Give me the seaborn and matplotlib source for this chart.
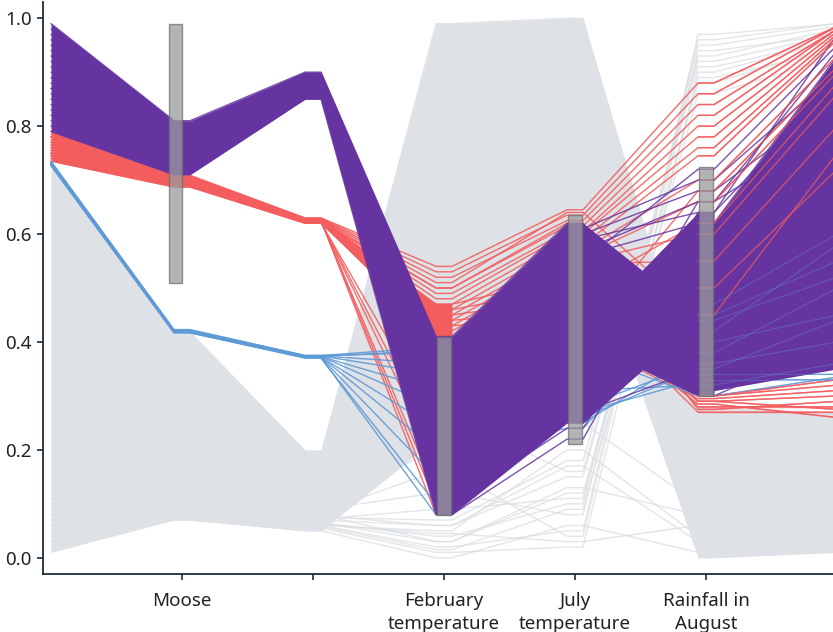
import matplotlib
matplotlib.use("Agg")
import matplotlib.pyplot as plt
import seaborn as sns
import pandas as pd
import numpy as np

# ---------------- data ----------------
axis_labels = ["", "Moose", "", "February\ntemperature", "July\ntemperature", "Rainfall in\nAugust", ""]
tick_axes = [1, 2, 3, 4, 5]
y_ticks = [0.0, 0.2, 0.4, 0.6, 0.8, 1.0]

# selected group (purple) profiles, one value per axis
purple_lines = [
    [0.99, 0.81, 0.900, 0.41, 0.62, 0.31, 0.36],
    [0.97, 0.80, 0.897, 0.39, 0.60, 0.68, 0.85],
    [0.95, 0.79, 0.893, 0.36, 0.58, 0.30, 0.40],
    [0.93, 0.78, 0.890, 0.33, 0.55, 0.72, 0.95],
    [0.91, 0.77, 0.885, 0.30, 0.52, 0.42, 0.62],
    [0.89, 0.76, 0.880, 0.27, 0.48, 0.45, 0.70],
    [0.87, 0.75, 0.875, 0.24, 0.45, 0.50, 0.78],
    [0.85, 0.74, 0.870, 0.20, 0.40, 0.55, 0.85],
    [0.83, 0.73, 0.865, 0.16, 0.35, 0.62, 0.90],
    [0.81, 0.72, 0.860, 0.12, 0.30, 0.66, 0.94],
    [0.80, 0.715, 0.855, 0.09, 0.26, 0.64, 0.97],
    [0.79, 0.71, 0.850, 0.08, 0.22, 0.60, 0.92],
    [0.90, 0.765, 0.880, 0.10, 0.24, 0.58, 0.88],
    [0.86, 0.745, 0.870, 0.14, 0.28, 0.47, 0.60],
    [0.92, 0.775, 0.888, 0.18, 0.33, 0.40, 0.50],
    [0.96, 0.795, 0.895, 0.22, 0.38, 0.36, 0.42],
    [0.84, 0.735, 0.868, 0.26, 0.50, 0.33, 0.38],
    [0.88, 0.755, 0.878, 0.35, 0.57, 0.66, 0.80],
    [0.94, 0.785, 0.892, 0.38, 0.61, 0.70, 0.90],
    [0.82, 0.725, 0.862, 0.11, 0.27, 0.35, 0.48],
    [0.98, 0.805, 0.898, 0.40, 0.59, 0.64, 0.88],
    [0.87, 0.752, 0.874, 0.31, 0.56, 0.62, 0.93],
]
red_lines = [
    [0.790, 0.709, 0.630, 0.54, 0.645, 0.88, 0.985],
    [0.785, 0.707, 0.629, 0.53, 0.635, 0.86, 0.985],
    [0.780, 0.705, 0.628, 0.52, 0.625, 0.84, 0.980],
    [0.775, 0.703, 0.627, 0.50, 0.615, 0.82, 0.980],
    [0.770, 0.701, 0.626, 0.49, 0.605, 0.80, 0.975],
    [0.765, 0.699, 0.625, 0.48, 0.600, 0.78, 0.970],
    [0.760, 0.697, 0.624, 0.47, 0.590, 0.76, 0.965],
    [0.755, 0.695, 0.623, 0.46, 0.580, 0.745, 0.960],
    [0.750, 0.693, 0.622, 0.45, 0.570, 0.70, 0.930],
    [0.745, 0.691, 0.621, 0.44, 0.560, 0.66, 0.900],
    [0.740, 0.689, 0.620, 0.43, 0.550, 0.60, 0.860],
    [0.735, 0.687, 0.620, 0.42, 0.545, 0.55, 0.800],
    [0.770, 0.700, 0.625, 0.47, 0.52, 0.29, 0.300],
    [0.760, 0.698, 0.624, 0.46, 0.50, 0.28, 0.280],
    [0.750, 0.694, 0.622, 0.45, 0.48, 0.27, 0.270],
    [0.780, 0.704, 0.627, 0.44, 0.46, 0.30, 0.320],
    [0.745, 0.692, 0.621, 0.43, 0.45, 0.285, 0.260],
    [0.770, 0.700, 0.625, 0.08, 0.40, 0.295, 0.310],
    [0.760, 0.697, 0.624, 0.12, 0.45, 0.50, 0.720],
    [0.750, 0.693, 0.622, 0.18, 0.50, 0.62, 0.880],
    [0.740, 0.690, 0.621, 0.25, 0.55, 0.275, 0.290],
    [0.780, 0.705, 0.628, 0.51, 0.64, 0.45, 0.750],
    [0.755, 0.695, 0.623, 0.50, 0.62, 0.30, 0.330],
    [0.765, 0.699, 0.625, 0.10, 0.42, 0.68, 0.910],
    [0.748, 0.692, 0.622, 0.21, 0.47, 0.29, 0.275],
]
blue_lines = [
    [0.735, 0.423, 0.375, 0.39, 0.42, 0.34, 0.34],
    [0.734, 0.422, 0.375, 0.38, 0.36, 0.40, 0.45],
    [0.733, 0.421, 0.374, 0.36, 0.30, 0.45, 0.55],
    [0.732, 0.421, 0.374, 0.34, 0.27, 0.33, 0.33],
    [0.731, 0.420, 0.373, 0.31, 0.25, 0.38, 0.50],
    [0.730, 0.419, 0.373, 0.28, 0.33, 0.42, 0.58],
    [0.729, 0.419, 0.372, 0.24, 0.28, 0.36, 0.40],
    [0.728, 0.418, 0.372, 0.20, 0.24, 0.47, 0.60],
    [0.727, 0.417, 0.371, 0.15, 0.31, 0.32, 0.36],
    [0.727, 0.417, 0.370, 0.10, 0.26, 0.35, 0.44],
    [0.728, 0.418, 0.371, 0.08, 0.29, 0.44, 0.52],
    [0.730, 0.420, 0.373, 0.385, 0.38, 0.30, 0.335],
]
grey_lines = [
    [0.70, 0.40, 0.19, 0.97, 0.99, 0.05, 0.06],
    [0.65, 0.38, 0.18, 0.93, 0.96, 0.12, 0.10],
    [0.60, 0.35, 0.17, 0.88, 0.92, 0.18, 0.17],
    [0.55, 0.32, 0.16, 0.83, 0.87, 0.22, 0.21],
    [0.50, 0.30, 0.15, 0.78, 0.82, 0.26, 0.25],
    [0.45, 0.27, 0.14, 0.72, 0.77, 0.02, 0.03],
    [0.40, 0.25, 0.13, 0.66, 0.70, 0.09, 0.11],
    [0.35, 0.22, 0.12, 0.60, 0.66, 0.14, 0.15],
    [0.68, 0.39, 0.19, 0.99, 1.00, 0.20, 0.19],
    [0.30, 0.20, 0.11, 0.55, 0.63, 0.24, 0.23],
    [0.05, 0.08, 0.06, 0.02, 0.05, 0.97, 0.99],
    [0.08, 0.09, 0.065, 0.04, 0.10, 0.95, 0.985],
    [0.10, 0.10, 0.07, 0.06, 0.15, 0.93, 0.98],
    [0.03, 0.075, 0.055, 0.01, 0.02, 0.90, 0.96],
    [0.12, 0.11, 0.075, 0.07, 0.18, 0.92, 0.97],
    [0.15, 0.12, 0.08, 0.03, 0.12, 0.88, 0.95],
    [0.02, 0.07, 0.05, 0.00, 0.06, 0.01, 0.01],
    [0.06, 0.085, 0.06, 0.05, 0.20, 0.04, 0.05],
    [0.09, 0.095, 0.065, 0.03, 0.13, 0.08, 0.08],
    [0.25, 0.18, 0.10, 0.20, 0.25, 0.10, 0.10],
    [0.20, 0.16, 0.09, 0.12, 0.08, 0.96, 0.99],
    [0.18, 0.15, 0.085, 0.16, 0.04, 0.94, 0.97],
    [0.22, 0.17, 0.095, 0.26, 0.16, 0.91, 0.96],
    [0.04, 0.078, 0.058, 0.015, 0.09, 0.86, 0.93],
    [0.07, 0.088, 0.062, 0.045, 0.03, 0.06, 0.04],
    [0.11, 0.105, 0.072, 0.09, 0.11, 0.89, 0.94],
    [0.14, 0.115, 0.078, 0.06, 0.17, 0.03, 0.02],
]

# dense bundles: (axes, lower values, upper values)
grey_bands = [
    ([0, 1, 2, 3], [0.01, 0.07, 0.05, 0.22], [0.73, 0.42, 0.20, 0.99]),
    ([3, 4], [0.30, 0.30], [0.99, 1.00]),
    ([4, 5], [0.62, 0.00], [1.00, 0.28]),
    ([5, 6], [0.00, 0.01], [0.28, 0.27]),
]
red_bands = [
    ([0, 1, 2], [0.735, 0.687, 0.620], [0.790, 0.709, 0.630]),
    ([2, 3], [0.620, 0.41], [0.630, 0.47]),
]
purple_bands = [
    ([0, 1, 2, 3], [0.79, 0.71, 0.85, 0.08], [0.99, 0.81, 0.90, 0.41]),
    ([3, 4], [0.08, 0.25], [0.41, 0.62]),
    ([4, 5], [0.40, 0.30], [0.62, 0.45]),
    ([4, 5], [0.25, 0.44], [0.42, 0.64]),
    ([5, 6], [0.31, 0.35], [0.62, 0.93]),
]

# brush ranges on the axes
brush_axes = [1, 3, 4, 5]
brush_lo = [0.51, 0.08, 0.21, 0.30]
brush_hi = [0.99, 0.41, 0.635, 0.725]

# ---------------- style ----------------
PURPLE = "#6634a0"
RED = "#f45d5e"
BLUE = "#5e9ad6"
SPINE = "#1c2b3a"
GREY = "#dee1e5"
H = 0.061          # half width of the flat run at each inner axis
LAST = len(axis_labels) - 1

sns.set_theme(style="ticks")
plt.rcParams["font.family"] = ["Noto Sans", "DejaVu Sans"]

fig = plt.figure(figsize=(8.33, 6.32), dpi=100)
ax = fig.add_axes([43 / 833, 1 - 574 / 632, 790 / 833, 572 / 632])


def xs_ys(axes_idx, vals):
    xs, ys = [], []
    for a, v in zip(axes_idx, vals):
        if a == 0 or a == LAST:
            xs.append(a); ys.append(v)
        else:
            xs += [a - H, a + H]; ys += [v, v]
    return xs, ys


def draw_bands(bands, color, zorder, alpha=1.0):
    for axes_idx, lo, hi in bands:
        x, ylo = xs_ys(axes_idx, lo)
        _, yhi = xs_ys(axes_idx, hi)
        ax.fill_between(x, ylo, yhi, color=color, alpha=alpha, lw=0, zorder=zorder)


def draw_lines(lines, color, lw, alpha, zorder, start=0):
    rows = []
    for k, prof in enumerate(lines):
        idx = list(range(start, len(prof)))
        x, y = xs_ys(idx, prof[start:])
        for xx, yy in zip(x, y):
            rows.append({"x": xx, "y": yy, "id": k})
    df = pd.DataFrame(rows)
    sns.lineplot(data=df, x="x", y="y", units="id", estimator=None, sort=False,
                 color=color, lw=lw, alpha=alpha, ax=ax, legend=False, zorder=zorder)


draw_lines(grey_lines, "#dcdfe3", 1.0, 0.8, zorder=1)
draw_bands(grey_bands, GREY, zorder=1.5)
draw_bands(red_bands, RED, zorder=2)
draw_lines(red_lines, RED, 1.0, 0.9, zorder=2.5)
draw_lines(blue_lines, BLUE, 1.0, 0.9, zorder=3)
draw_bands(purple_bands, PURPLE, zorder=3.5)
draw_lines(purple_lines, PURPLE, 1.0, 0.85, zorder=4)
draw_lines(red_lines, RED, 1.0, 0.7, zorder=4.5, start=5)
draw_lines(blue_lines, BLUE, 0.8, 0.35, zorder=4.6, start=5)

bar_x = [a - (0.05 if a == 1 else 0.0) for a in brush_axes]
ax.bar(bar_x, np.array(brush_hi) - np.array(brush_lo), bottom=brush_lo, width=0.105,
       color="#9a9a9e", alpha=0.75, edgecolor="#6f6f72", linewidth=1.0, zorder=6)

ax.set_xlim(-0.061, 5.969)
ax.set_ylim(-0.03, 1.03)
ax.set_xticks(tick_axes)
ax.set_xticklabels([axis_labels[i] for i in tick_axes])
ax.set_yticks(y_ticks)
ax.set_yticklabels([f"{v:.1f}" for v in y_ticks])
ax.set_xlabel("")
ax.set_ylabel("")
ax.tick_params(axis="x", length=4, width=1.2, color=SPINE, labelsize=13.5,
               labelcolor="#222222", pad=9)
ax.tick_params(axis="y", length=4, width=1.2, color=SPINE, labelsize=13.5,
               labelcolor="#222222", pad=4)
for lab in ax.get_xticklabels():
    lab.set_linespacing(1.35)
for s in ["top", "right"]:
    ax.spines[s].set_visible(False)
for s in ["left", "bottom"]:
    ax.spines[s].set_color(SPINE)
    ax.spines[s].set_linewidth(1.3)

fig.savefig("out.png", dpi=100)
